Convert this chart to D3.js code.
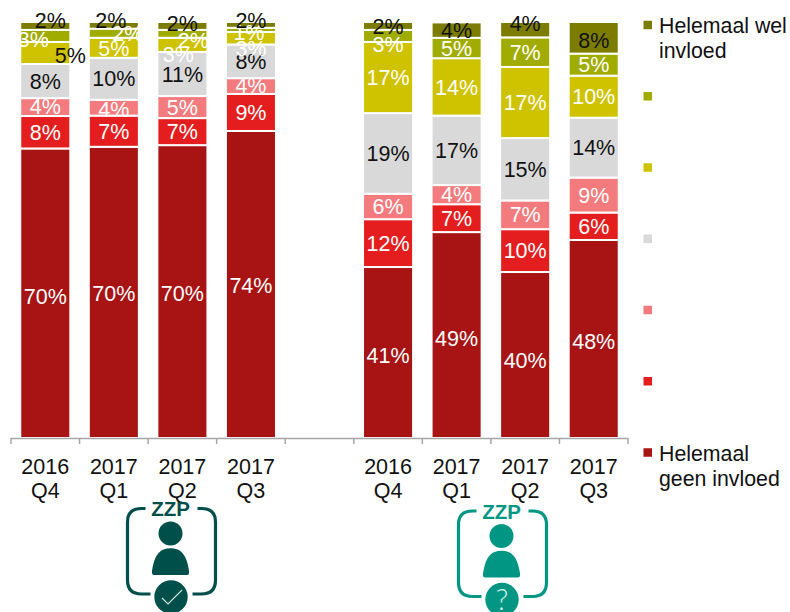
<!DOCTYPE html>
<html><head><meta charset="utf-8">
<script src="https://cdn.jsdelivr.net/npm/d3@7/dist/d3.min.js"></script>
<style>html,body{margin:0;padding:0;background:#fff}svg{display:block}text{font-family:"Liberation Sans",Arial,sans-serif}</style>
</head><body><svg id="c" width="790" height="612"></svg>
<script>
const slots = ["a0","a1","a2","a3","gap","b0","b1","b2","b3"];
const categories = ["a0","a1","a2","a3","b0","b1","b2","b3"];
const years = ["2016","2017","2017","2017","2016","2017","2017","2017"];
const quarters = ["Q4","Q1","Q2","Q3","Q4","Q1","Q2","Q3"];
const seriesNames = ["s1","s2","s3","s4","s5","s6","s7"];
const seriesColors = ["#a81313","#e41e1e","#f47b7d","#d9d9d9","#cfc300","#a0ac00","#7c7d00"];
const textColors = ["#fff","#fff","#fff","#111","#fff","#fff","#111"];

// bottom → top
const s1 = [69.6,70.0,70.4,73.8,41.1,49.5,39.9,47.6];
const s2 = [7.8,7.5,6.5,8.9,11.5,6.7,10.3,6.6];
const s3 = [4.3,3.8,5.3,3.8,6.1,4.6,6.9,8.4];
const s4 = [8.2,10.1,10.6,8.1,19.4,16.7,15.0,14.4];
const s5 = [5.3,4.8,3.4,3.0,17.1,13.8,17.1,10.1];
const s6 = [2.9,2.2,1.9,1.0,2.9,4.9,7.1,5.3];
const s7 = [1.9,1.6,1.9,1.4,1.9,3.7,3.7,7.6];
const seriesValues = [s1,s2,s3,s4,s5,s6,s7];

// printed labels per series
const l1 = [70,70,70,74,41,49,40,48];
const l2 = [8,7,7,9,12,7,10,6];
const l3 = [4,4,5,4,6,4,7,9];
const l4 = [8,10,11,8,19,17,15,14];
const l5 = [5,5,3,3,17,14,17,10];
const l6 = [3,2,2,1,3,5,7,5];
const l7 = [2,2,2,2,2,4,4,8];
const seriesLabels = [l1,l2,l3,l4,l5,l6,l7];

// label displacement from segment centre [dx,dy], per bar then series
const nudges = [
 [[0,3],[0,0],[0,-1],[0,0],[25,2],[-12,4],[5,-5]],
 [[0,1.5],[0,0],[0,2],[0,0],[0,1],[14,0],[-3,-4.5]],
 [[0,1.5],[0,0],[0,0],[0,0],[-4,10],[11,7],[0,-2]],
 [[0,0.5],[0,0],[0,-1],[0,0],[0,10],[-2,3],[0,-4]],
 [[0,3],[0,0],[0,0],[0,0],[0,0],[0,9],[0,1]],
 [[0,3],[0,0],[0,0],[0,0],[0,1],[0,0],[0,0]],
 [[0,5],[0,0],[0,0],[0,0],[0,0],[0,0],[0,-6]],
 [[0,2],[0,0],[0,0],[0,0],[0,0],[0,0],[0,3]]
];
// the one label pushed out of its bar onto the white background
const darkLabelOverride = {bar:0, series:4};
const legendColors = [seriesColors[6],seriesColors[5],seriesColors[4],seriesColors[3],seriesColors[2],seriesColors[1],seriesColors[0]];
const legendTexts = [["Helemaal wel","invloed"],[],[],[],[],[],["Helemaal","geen invloed"]];

const svg = d3.select("#c");
const x = d3.scaleBand().domain(slots).range([11,628]).paddingInner(0.27).paddingOuter(0.135);
const y = d3.scaleLinear().domain([0,100]).range([438,22]);
const fs = 21.5;

categories.forEach((cat,i)=>{
  let acc = 0;
  seriesValues.forEach((vals,k)=>{
    const v = vals[i], y0 = y(acc), y1 = y(acc+v);
    acc += v;
    svg.append("rect").attr("x",x(cat)).attr("width",x.bandwidth())
      .attr("y",y1).attr("height",y0-y1).attr("fill",seriesColors[k])
      .attr("stroke","#fff").attr("stroke-width",2);
  });
});
// axis
const slotEdges = d3.range(slots.length+1).map(i=>x.range()[0]+i*x.step());
const g = svg.append("g");
g.append("line").attr("x1",x.range()[0]).attr("x2",x.range()[1]).attr("y1",438.5).attr("y2",438.5).attr("stroke","#a6a6a6").attr("stroke-width",1.5);
g.selectAll("line.t").data(slotEdges).join("line").attr("class","t").attr("x1",d=>d).attr("x2",d=>d).attr("y1",438).attr("y2",444).attr("stroke","#a6a6a6").attr("stroke-width",1.5);

categories.forEach((cat,i)=>{
  const cx = x(cat)+x.bandwidth()/2;
  let acc = 0;
  seriesValues.forEach((vals,k)=>{
    const v = vals[i], mid = y(acc+v/2); acc += v;
    const [dx,dy] = nudges[i][k];
    const isDark = i===darkLabelOverride.bar && k===darkLabelOverride.series;
    svg.append("text").attr("x",cx+dx).attr("y",mid+dy).attr("dy","0.35em")
      .attr("text-anchor","middle").attr("font-size",fs).attr("fill",isDark?"#111":textColors[k])
      .text(seriesLabels[k][i]+"%");
  });
  svg.append("text").attr("x",cx).attr("y",473.5).attr("text-anchor","middle").attr("font-size",fs).attr("fill","#111").text(years[i]);
  svg.append("text").attr("x",cx).attr("y",498).attr("text-anchor","middle").attr("font-size",fs).attr("fill","#111").text(quarters[i]);
});

// legend
const ly = d3.scalePoint().domain(d3.range(7)).range([25,452.5]);
legendColors.forEach((c,i)=>{
  svg.append("rect").attr("x",643.5).attr("y",ly(i)-4.25).attr("width",8.5).attr("height",8.5).attr("fill",c);
  legendTexts[i].forEach((t,j)=>{
    svg.append("text").attr("x",659).attr("y",ly(i)+(i===0?7.5:8.5)+j*25).attr("font-size",21.3).attr("fill","#111").text(t);
  });
});

// icons
function icon(cx,dy,color,mark){
  const ic = svg.append("g").attr("transform",`translate(${cx},${dy})`);
  ic.append("path").attr("fill","none").attr("stroke",color).attr("stroke-width",3.2)
    .attr("d","M-26,508.5 L-30,508.5 Q-44,508.5 -44,522 L-44,580 Q-44,594 -30,594 L-21,594 M21,594 L30,594 Q44,594 44,580 L44,522 Q44,508.5 30,508.5 L26,508.5");
  ic.append("text").attr("x",-1).attr("y",516).attr("text-anchor","middle").attr("font-size",20.5).attr("font-weight","bold").attr("fill",color).text("ZZP");
  ic.append("circle").attr("cx",-1).attr("cy",533.5).attr("r",12).attr("fill",color);
  ic.append("path").attr("fill",color).attr("d","M-17.5,575 Q-20,575 -19.5,571 Q-17,553 -8,549.5 Q-1,547 6,549.5 Q15,553 17.5,571 Q18,575 15.5,575 Z");
  ic.append("circle").attr("cx",-0.5).attr("cy",597).attr("r",16.7).attr("fill",color);
  if(mark==="check"){
    ic.append("path").attr("fill","none").attr("stroke","#cfe3df").attr("stroke-width",1.2).attr("d","M-9.5,598 L-3.5,604 L10.5,590");
  } else {
    ic.append("text").attr("x",-0.5).attr("y",607).attr("text-anchor","middle").attr("font-size",29)
      .attr("font-weight",300).style("font-family","Lato, Roboto, 'Open Sans', sans-serif").attr("fill","#d8f1ec").text("?");
  }
}
icon(171.5,0,"#004f4a","check");
icon(502.5,2.5,"#009684","q");
</script></body></html>
